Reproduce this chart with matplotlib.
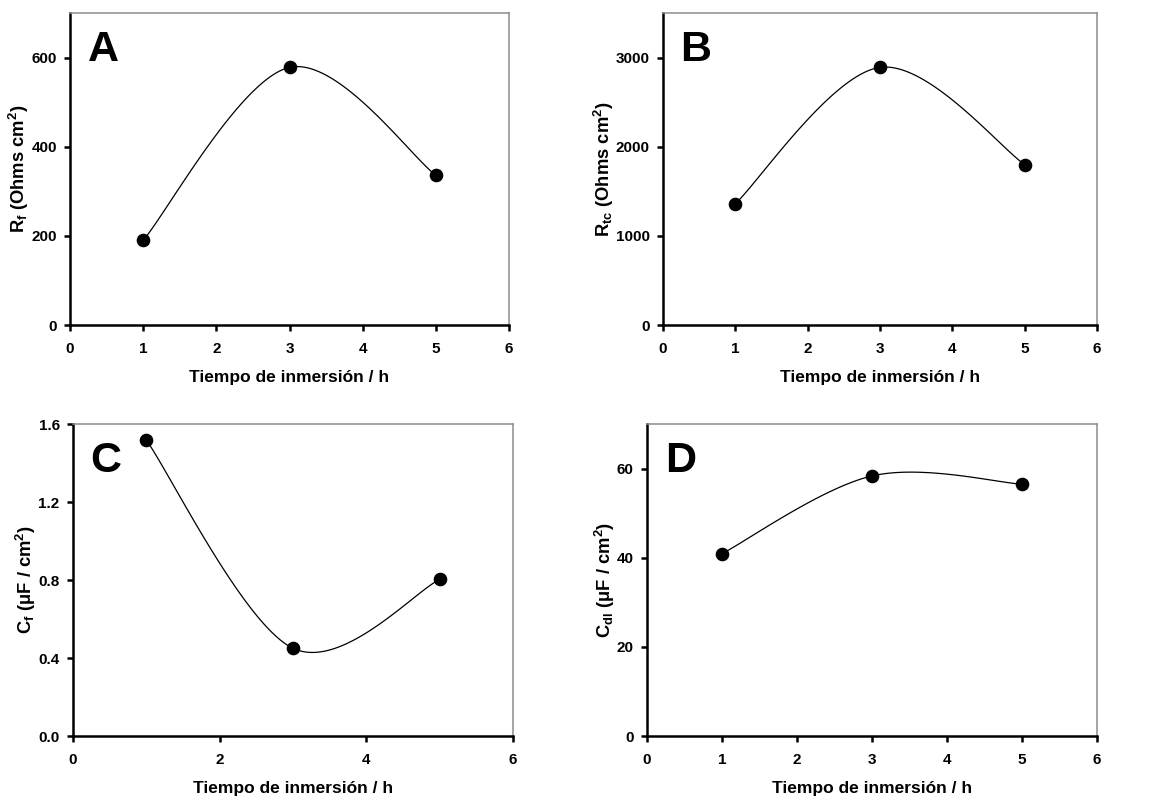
import numpy as np
import matplotlib
matplotlib.use("Agg")
import matplotlib.pyplot as plt

plt.rcParams["font.family"] = ["Liberation Sans", "DejaVu Sans"]
plt.rcParams["font.weight"] = "bold"
plt.rcParams["mathtext.fontset"] = "custom"
plt.rcParams["mathtext.bf"] = "Liberation Sans:bold"
plt.rcParams["mathtext.rm"] = "Liberation Sans:bold"
plt.rcParams["mathtext.default"] = "bf"

# data
time_h = [1, 3, 5]
r_f = [190, 578, 336]
r_tc = [1360, 2890, 1800]
c_f = [1.518, 0.45, 0.803]
c_dl = [40.9, 58.35, 56.5]

x_label = "Tiempo de inmersión / h"
panel_letters = ["A", "B", "C", "D"]
y_labels = ["R$_f$ (Ohms cm$^2$)", "R$_{tc}$ (Ohms cm$^2$)",
            "C$_f$ (μF / cm$^2$)", "C$_{dl}$ (μF / cm$^2$)"]
y_ticks = [[0, 200, 400, 600], [0, 1000, 2000, 3000],
           [0.0, 0.4, 0.8, 1.2, 1.6], [0, 20, 40, 60]]
y_tick_labels = [["0", "200", "400", "600"], ["0", "1000", "2000", "3000"],
                 ["0.0", "0.4", "0.8", "1.2", "1.6"], ["0", "20", "40", "60"]]
y_max = [700, 3500, 1.6, 70]
x_ticks = [[0, 1, 2, 3, 4, 5, 6], [0, 1, 2, 3, 4, 5, 6],
           [0, 2, 4, 6], [0, 1, 2, 3, 4, 5, 6]]


def smooth_curve(x, y, n=60):
    # spreadsheet style smoothed line: cubic bezier through the points
    pts = np.column_stack([x, y]).astype(float)
    out = []
    for i in range(len(pts) - 1):
        p0 = pts[max(i - 1, 0)]
        p1 = pts[i]
        p2 = pts[i + 1]
        p3 = pts[min(i + 2, len(pts) - 1)]
        c1 = p1 + (p2 - p0) / 6.0
        c2 = p2 - (p3 - p1) / 6.0
        t = np.linspace(0, 1, n)[:, None]
        seg = ((1 - t) ** 3) * p1 + 3 * ((1 - t) ** 2) * t * c1 + 3 * (1 - t) * t ** 2 * c2 + t ** 3 * p2
        out.append(seg)
    out = np.vstack(out)
    return out[:, 0], out[:, 1]


fig = plt.figure(figsize=(11.56, 7.97), dpi=100)
positions = [
    [0.0606, 0.5922, 0.3797, 0.3915],
    [0.5735, 0.5922, 0.3755, 0.3915],
    [0.0631, 0.0765, 0.3807, 0.3915],
    [0.5597, 0.0765, 0.3893, 0.3915],
]
series = [r_f, r_tc, c_f, c_dl]

for k in range(4):
    ax = fig.add_axes(positions[k])
    vals = series[k]
    sx, sy = smooth_curve(time_h, vals)
    ax.plot(sx, sy, color="black", lw=0.9, zorder=2)
    ax.plot(time_h, vals, "o", color="black", ms=8.8, zorder=3, clip_on=False)

    ax.set_xlim(0, 6)
    ax.set_ylim(0, y_max[k])
    ax.set_xticks(x_ticks[k])
    ax.set_yticks(y_ticks[k])
    ax.set_yticklabels(y_tick_labels[k])

    for side in ["left", "bottom"]:
        ax.spines[side].set_linewidth(1.8)
        ax.spines[side].set_color("black")
    for side in ["top", "right"]:
        ax.spines[side].set_linewidth(1.1)
        ax.spines[side].set_color("#8c8c8c")

    ax.tick_params(direction="out", length=4.5, width=1.8, labelsize=11, pad=5)
    ax.tick_params(axis="x", pad=8)
    ax.set_xlabel(x_label, fontsize=12.5, fontweight="bold", labelpad=10)
    ax.set_ylabel(y_labels[k], fontsize=13.2, fontweight="bold", labelpad=0)
    ax.text(0.04, 0.945, panel_letters[k], transform=ax.transAxes,
            fontsize=31, fontweight="bold", va="top", ha="left")

fig.savefig("out.png", dpi=100)
